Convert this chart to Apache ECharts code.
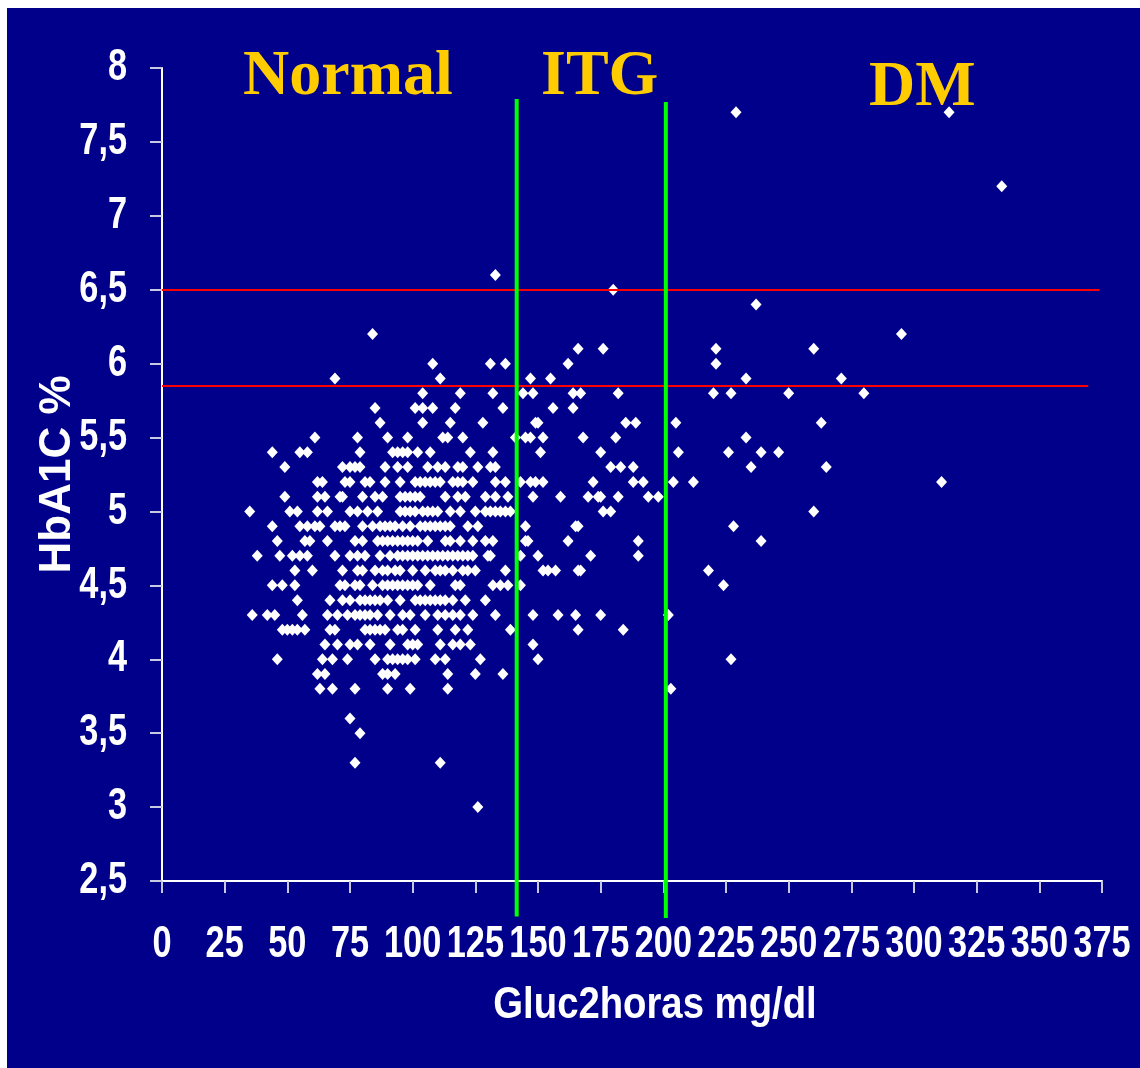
<!DOCTYPE html>
<html>
<head>
<meta charset="utf-8">
<script src="https://cdn.jsdelivr.net/npm/echarts@6/dist/echarts.min.js"></script>
<style>
  html, body { margin: 0; padding: 0; background: #ffffff; width: 1140px; height: 1068px; overflow: hidden; }
  #bg { position: absolute; left: 7px; top: 8px; width: 1133px; height: 1060px; background: #00008B; }
  #chart { position: absolute; left: 0; top: 0; width: 1140px; height: 1068px; }
</style>
</head>
<body>
<div id="bg"></div>
<div id="chart"></div>
<script>
// HbA1c levels (%) and the 2-hour glucose values (mg/dl) of the points on each level
const hba1cLevels = [7.7, 7.2, 6.6, 6.5, 6.4, 6.2, 6.1, 6.0, 5.9, 5.8, 5.7, 5.6, 5.5, 5.4, 5.3, 5.2, 5.1, 5.0, 4.9, 4.8, 4.7, 4.6, 4.5, 4.4, 4.3, 4.2, 4.1, 4.0, 3.9, 3.8, 3.6, 3.5, 3.3, 3.0];
const glucoseAtLevel = [
  [229, 314],
  [335],
  [133],
  [180],
  [237],
  [84, 295],
  [166, 176, 221, 260],
  [108, 131, 137, 162, 221],
  [69, 111, 147, 155, 233, 271],
  [104, 119, 132, 144, 148, 164, 167, 182, 220, 227, 250, 280],
  [85, 101, 104, 108, 117, 136, 156, 164],
  [87, 104, 115, 128, 149, 150, 185, 189, 205, 263],
  [61, 78, 90, 98, 112, 114, 120, 141, 145, 147, 152, 168, 181, 233],
  [44, 55, 58, 79, 92, 94, 96, 98, 102, 107, 123, 132, 151, 175, 206, 226, 239, 246],
  [49, 72, 75, 77, 79, 89, 94, 98, 106, 110, 113, 118, 120, 126, 131, 133, 179, 183, 188, 235, 265],
  [62, 64, 73, 75, 81, 83, 89, 95, 101, 103, 105, 107, 109, 111, 116, 118, 120, 124, 133, 137, 143, 147, 149, 152, 172, 188, 192, 204, 212, 311],
  [49, 62, 65, 71, 72, 80, 85, 88, 95, 97, 99, 101, 103, 113, 118, 121, 129, 133, 138, 148, 159, 170, 174, 175, 182, 194, 198],
  [35, 51, 54, 62, 66, 75, 78, 82, 86, 95, 97, 99, 101, 104, 106, 108, 110, 115, 119, 125, 129, 131, 133, 135, 137, 139, 176, 179, 260],
  [44, 55, 58, 61, 63, 69, 71, 73, 80, 84, 87, 89, 91, 93, 96, 99, 103, 105, 107, 109, 111, 113, 115, 122, 126, 145, 165, 166, 228],
  [46, 57, 59, 66, 77, 80, 86, 88, 90, 92, 94, 96, 98, 100, 102, 106, 113, 115, 119, 124, 129, 132, 145, 146, 162, 190, 239],
  [38, 47, 52, 55, 58, 69, 75, 78, 81, 87, 91, 94, 96, 98, 100, 102, 104, 106, 108, 110, 112, 114, 116, 118, 120, 122, 124, 130, 131, 143, 150, 171, 190],
  [53, 60, 72, 78, 80, 85, 88, 90, 93, 95, 100, 105, 109, 111, 113, 116, 120, 122, 125, 137, 152, 154, 157, 166, 167, 218],
  [44, 48, 53, 71, 73, 77, 79, 84, 88, 90, 92, 94, 96, 98, 100, 102, 107, 117, 119, 132, 135, 138, 143, 224],
  [54, 67, 72, 75, 79, 81, 83, 85, 87, 90, 95, 101, 103, 105, 107, 109, 111, 113, 116, 121, 129],
  [36, 42, 45, 56, 66, 70, 74, 77, 79, 81, 83, 86, 91, 96, 99, 105, 110, 113, 116, 119, 124, 133, 148, 158, 165, 175, 202],
  [48, 50, 52, 54, 57, 67, 69, 81, 83, 85, 87, 89, 94, 96, 101, 110, 117, 122, 139, 166, 184],
  [65, 70, 75, 78, 83, 91, 98, 100, 102, 111, 116, 119, 123, 148],
  [46, 64, 68, 74, 85, 90, 92, 94, 96, 98, 101, 109, 113, 127, 150, 227],
  [62, 65, 88, 90, 93, 114, 125, 136],
  [63, 68, 77, 90, 99, 114, 203],
  [75],
  [79],
  [77, 111],
  [126]
];

// Region labels and cut-off lines
const regionNames = ['Normal', 'ITG', 'DM'];
const greenCutX = [141.5, 201];                    // vertical green lines (glucose)
const greenSpanY = [[2.26, 7.79], [2.25, 7.77]];
const redCutY = [6.5, 5.85];                        // horizontal red lines (HbA1c)
const redSpanX = [[0, 374], [0, 369.5]];

// Axes and tick labels
const xAxisMin = 0, xAxisMax = 375, xAxisStep = 25;
const yAxisMin = 2.5, yAxisMax = 8, yAxisStep = 0.5;
const xTickValues = [0, 25, 50, 75, 100, 125, 150, 175, 200, 225, 250, 275, 300, 325, 350, 375];
const xTickLabels = ['0', '25', '50', '75', '100', '125', '150', '175', '200', '225', '250', '275', '300', '325', '350', '375'];
const yTickValues = [2.5, 3, 3.5, 4, 4.5, 5, 5.5, 6, 6.5, 7, 7.5, 8];
const yTickLabels = ['2,5', '3', '3,5', '4', '4,5', '5', '5,5', '6', '6,5', '7', '7,5', '8'];
const xAxisName = 'Gluc2horas mg/dl';
const yAxisName = 'HbA1C %';

const points = [];
hba1cLevels.forEach((lv, i) => glucoseAtLevel[i].forEach(g => points.push([g, lv])));

const sansFont = '"Liberation Sans", Arial, sans-serif';
const serifFont = '"Liberation Serif", "Times New Roman", serif';

const redMarkData = redCutY.map((y, i) => [
  { coord: [redSpanX[i][0], y] },
  { coord: [redSpanX[i][1], y] }
]);

const chart = echarts.init(document.getElementById('chart'), null, { renderer: 'canvas' });
const titleStyle = { color: '#FFCC00', fontFamily: serifFont, fontWeight: 'bold', fontSize: 64 };
chart.setOption({
  animation: false,
  backgroundColor: 'transparent',
  title: [
    { text: regionNames[0], left: 243, top: 45, padding: 0, textStyle: titleStyle },
    { text: regionNames[1], left: 541, top: 45, padding: 0, textStyle: titleStyle },
    { text: regionNames[2], left: 869, top: 56, padding: 0, textStyle: titleStyle }
  ],
  grid: { left: 162, right: 38, top: 68, bottom: 187, containLabel: false },
  xAxis: {
    type: 'value', min: xAxisMin, max: xAxisMax, interval: xAxisStep,
    axisLine: { show: true, lineStyle: { color: '#ffffff', width: 2 } },
    axisTick: { show: true, length: 12, lineStyle: { color: '#c8c8e0', width: 2 } },
    axisLabel: { show: false },
    splitLine: { show: false }
  },
  yAxis: {
    type: 'value', min: yAxisMin, max: yAxisMax, interval: yAxisStep,
    name: yAxisName, nameLocation: 'middle', nameGap: 82,
    nameTextStyle: { color: '#ffffff', fontFamily: sansFont, fontWeight: 'bold', fontSize: 44 },
    axisLine: { show: true, lineStyle: { color: '#ffffff', width: 2 } },
    axisTick: { show: true, length: 12, lineStyle: { color: '#c8c8e0', width: 2 } },
    axisLabel: { show: false },
    splitLine: { show: false }
  },
  series: [{
    type: 'scatter',
    data: points,
    clip: false,
    symbol: 'diamond',
    symbolSize: [11, 12],
    itemStyle: { color: '#ffffff', opacity: 1 },
    markLine: {
      silent: true,
      symbol: ['none', 'none'],
      label: { show: false },
      lineStyle: { color: '#FF0000', width: 2, type: 'solid', opacity: 1 },
      data: redMarkData
    }
  }]
});

// Condensed tick labels, axis title and the green cut-off lines, placed through the axes' scales
const toPx = (x, y) => chart.convertToPixel({ gridIndex: 0 }, [x, y]);
const origin = toPx(xAxisMin, yAxisMin);
const graphics = [];
xTickValues.forEach((v, i) => {
  const p = toPx(v, yAxisMin);
  graphics.push({
    type: 'text', x: p[0], y: origin[1] + 64, scaleX: 0.78, silent: true,
    style: { text: xTickLabels[i], fill: '#ffffff', fontFamily: sansFont, fontWeight: 'bold', fontSize: 44,
             align: 'center', verticalAlign: 'middle' }
  });
});
yTickValues.forEach((v, i) => {
  const p = toPx(xAxisMin, v);
  graphics.push({
    type: 'text', x: origin[0] - 35, y: p[1], scaleX: 0.78, silent: true,
    style: { text: yTickLabels[i], fill: '#ffffff', fontFamily: sansFont, fontWeight: 'bold', fontSize: 44,
             align: 'right', verticalAlign: 'middle' }
  });
});
const xMid = toPx((xAxisMin + xAxisMax) / 2, yAxisMin);
graphics.push({
  type: 'text', x: xMid[0] + 23, y: origin[1] + 125, scaleX: 0.87, silent: true,
  style: { text: xAxisName, fill: '#ffffff', fontFamily: sansFont, fontWeight: 'bold', fontSize: 44,
           align: 'center', verticalAlign: 'middle' }
});
greenCutX.forEach((x, i) => {
  const a = toPx(x, greenSpanY[i][0]);
  const b = toPx(x, greenSpanY[i][1]);
  graphics.push({
    type: 'line', silent: true, z: 10,
    shape: { x1: a[0], y1: a[1], x2: b[0], y2: b[1] },
    style: { stroke: '#00FF00', lineWidth: 4 }
  });
});
chart.setOption({ graphic: graphics });
</script>
</body>
</html>
